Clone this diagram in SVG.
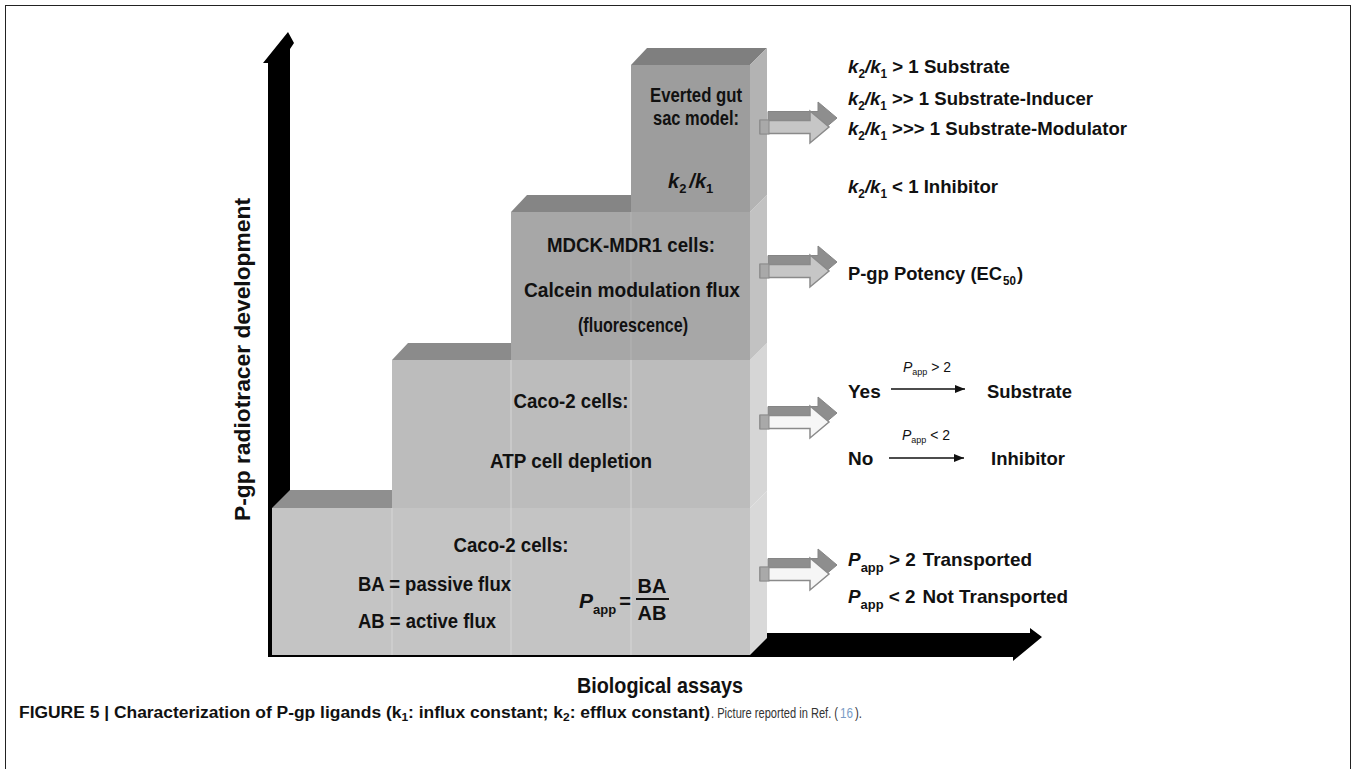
<svg xmlns="http://www.w3.org/2000/svg" width="1356" height="769" viewBox="0 0 1356 769">
<style>
text{font-family:"Liberation Sans",Arial,sans-serif;font-weight:bold;fill:#111}
.bx{font-size:20px}
.rt{font-size:19px}
.sm{font-size:14px;font-weight:normal}
.capn{font-size:14px;font-weight:normal;fill:#333}
.back{fill:#8e8e8e;stroke:#858585;stroke-width:1}
.frontA{fill:#c6c6c6;stroke:#8a8a8a;stroke-width:1.5}
.frontB{fill:#f6f6f6;stroke:#8a8a8a;stroke-width:1.5}
.cap2{fill:#a9a9a9;stroke:#8a8a8a;stroke-width:1}
.col{stroke:#d6d6d6;stroke-width:1}
</style>
<defs>
<marker id="ah" viewBox="0 0 10 8" refX="10" refY="4" markerWidth="10" markerHeight="8" markerUnits="userSpaceOnUse" orient="auto">
<path d="M0,0 L10,4 L0,8 z" fill="#111"/>
</marker>
<path id="arr" d="M0,-6.5 H50 V-16 L69,0 L50,16 V6.5 H0 Z"/>
</defs>
<rect x="5.5" y="5.5" width="1345" height="800" fill="#fff" stroke="#222" stroke-width="1"/>

<g id="axes">
<polygon points="268,657 268,63 263,63 288,32 294,43 290,49 290,657" fill="#000"/>
<polygon points="268,657 268,633 1030,633 1030,628 1042,637 1013,661 1013,657" fill="#000"/>
<text x="0" y="0" transform="translate(250,521) rotate(-90)" font-size="22.5" textLength="323" lengthAdjust="spacingAndGlyphs">P-gp radiotracer development</text>
<text x="660" y="693" font-size="22" text-anchor="middle" textLength="166" lengthAdjust="spacingAndGlyphs">Biological assays</text>
</g>

<g id="box1">
<polygon points="272,508 290,490 392,490 392,508" fill="#8f8f8f"/>
<polygon points="750,508 767,491 767,638 750,655" fill="#d9d9d9"/>
<rect x="272" y="508" width="478" height="147" fill="#c4c4c4"/>
<line class="col" x1="392" y1="508" x2="392" y2="655"/>
<line class="col" x1="511" y1="508" x2="511" y2="655"/>
<line class="col" x1="631" y1="508" x2="631" y2="655"/>
<text class="bx" x="511" y="552" text-anchor="middle" textLength="115" lengthAdjust="spacingAndGlyphs">Caco-2 cells:</text>
<text class="bx" x="358" y="591" textLength="153" lengthAdjust="spacingAndGlyphs">BA = passive flux</text>
<text class="bx" x="358" y="628" textLength="138" lengthAdjust="spacingAndGlyphs">AB = active flux</text>
<text class="bx" x="579" y="608"><tspan font-style="italic" font-size="21">P</tspan><tspan font-size="13" dy="6">app</tspan><tspan dy="-6" dx="3">=</tspan></text>
<text class="bx" x="652" y="593" text-anchor="middle">BA</text>
<line x1="636" y1="599" x2="669" y2="599" stroke="#111" stroke-width="2"/>
<text class="bx" x="652" y="620" text-anchor="middle">AB</text>
</g>

<g id="box2">
<polygon points="392,360 408,343 511,343 511,360" fill="#8b8b8b"/>
<polygon points="750,360 767,343 767,491 750,508" fill="#d6d6d6"/>
<rect x="392" y="360" width="358" height="148" fill="#bcbcbc"/>
<line class="col" x1="511" y1="360" x2="511" y2="508"/>
<line class="col" x1="631" y1="360" x2="631" y2="508"/>
<text class="bx" x="571" y="408" text-anchor="middle" textLength="115" lengthAdjust="spacingAndGlyphs">Caco-2 cells:</text>
<text class="bx" x="571" y="468" text-anchor="middle" textLength="162" lengthAdjust="spacingAndGlyphs">ATP cell depletion</text>
</g>

<g id="box3">
<polygon points="511,212 527,195 631,195 631,212" fill="#858585"/>
<polygon points="750,212 767,195 767,343 750,360" fill="#c2c2c2"/>
<rect x="511" y="212" width="239" height="148" fill="#a7a7a7"/>
<line x1="631" y1="212" x2="631" y2="360" stroke="#b4b4b4" stroke-width="1"/>
<text class="bx" x="631" y="252" text-anchor="middle" textLength="168" lengthAdjust="spacingAndGlyphs">MDCK-MDR1 cells:</text>
<text class="bx" x="632" y="297" text-anchor="middle" textLength="216" lengthAdjust="spacingAndGlyphs">Calcein modulation flux</text>
<text class="bx" x="633" y="332" text-anchor="middle" textLength="110" lengthAdjust="spacingAndGlyphs">(fluorescence)</text>
</g>

<g id="box4">
<polygon points="631,65 647,48 767,48 750,65" fill="#7f7f7f"/>
<polygon points="750,65 767,48 767,195 750,212" fill="#b3b3b3"/>
<rect x="631" y="65" width="119" height="147" fill="#9d9d9d"/>
<text class="bx" x="696" y="102" text-anchor="middle" textLength="92" lengthAdjust="spacingAndGlyphs">Everted gut</text>
<text class="bx" x="696" y="125" text-anchor="middle" textLength="86" lengthAdjust="spacingAndGlyphs">sac model:</text>
<text class="bx" x="668" y="188"><tspan font-style="italic">k</tspan><tspan font-size="13" dy="5">2</tspan><tspan dy="-5" dx="3" font-style="italic">/k</tspan><tspan font-size="13" dy="5">1</tspan></text>
</g>

<g id="connectors">
<g transform="translate(760,127)"><use href="#arr" class="back" x="8" y="-9"/><use href="#arr" class="frontA"/><rect class="cap2" x="0" y="-7" width="9" height="14"/></g>
<g transform="translate(760,271)"><use href="#arr" class="back" x="8" y="-9"/><use href="#arr" class="frontA"/><rect class="cap2" x="0" y="-7" width="9" height="14"/></g>
<g transform="translate(760,422)"><use href="#arr" class="back" x="8" y="-9"/><use href="#arr" class="frontB"/><rect class="cap2" x="0" y="-7" width="9" height="14"/></g>
<g transform="translate(760,574)"><use href="#arr" class="back" x="8" y="-9"/><use href="#arr" class="frontB"/><rect class="cap2" x="0" y="-7" width="9" height="14"/></g>
<line x1="891" y1="389" x2="965" y2="389" stroke="#111" stroke-width="1.5" marker-end="url(#ah)"/>
<line x1="889" y1="458" x2="964" y2="458" stroke="#111" stroke-width="1.5" marker-end="url(#ah)"/>
</g>

<g id="out4">
<text class="rt" x="848" y="73" textLength="162" lengthAdjust="spacingAndGlyphs"><tspan font-style="italic">k</tspan><tspan font-size="12" dy="5">2</tspan><tspan dy="-5" font-style="italic">/k</tspan><tspan font-size="12" dy="5">1</tspan><tspan dy="-5"> &gt; 1 Substrate</tspan></text>
<text class="rt" x="848" y="105" textLength="245" lengthAdjust="spacingAndGlyphs"><tspan font-style="italic">k</tspan><tspan font-size="12" dy="5">2</tspan><tspan dy="-5" font-style="italic">/k</tspan><tspan font-size="12" dy="5">1</tspan><tspan dy="-5"> &gt;&gt; 1 Substrate-Inducer</tspan></text>
<text class="rt" x="848" y="135" textLength="279" lengthAdjust="spacingAndGlyphs"><tspan font-style="italic">k</tspan><tspan font-size="12" dy="5">2</tspan><tspan dy="-5" font-style="italic">/k</tspan><tspan font-size="12" dy="5">1</tspan><tspan dy="-5"> &gt;&gt;&gt; 1 Substrate-Modulator</tspan></text>
<text class="rt" x="848" y="193" textLength="150" lengthAdjust="spacingAndGlyphs"><tspan font-style="italic">k</tspan><tspan font-size="12" dy="5">2</tspan><tspan dy="-5" font-style="italic">/k</tspan><tspan font-size="12" dy="5">1</tspan><tspan dy="-5"> &lt; 1 Inhibitor</tspan></text>
</g>

<g id="out3">
<text class="rt" x="848" y="280" textLength="175" lengthAdjust="spacingAndGlyphs">P-gp Potency (EC<tspan font-size="12" dy="5" dx="1">50</tspan><tspan dy="-5" dx="1">)</tspan></text>
</g>

<g id="out2">
<text class="rt" x="848" y="398">Yes</text>
<text class="rt" x="848" y="465">No</text>
<text class="rt" x="987" y="398" textLength="85" lengthAdjust="spacingAndGlyphs">Substrate</text>
<text class="rt" x="991" y="465" textLength="74" lengthAdjust="spacingAndGlyphs">Inhibitor</text>
<text class="sm" x="903" y="372"><tspan font-style="italic">P</tspan><tspan font-size="9" dy="3">app</tspan><tspan dy="-3"> &gt; 2</tspan></text>
<text class="sm" x="902" y="440"><tspan font-style="italic">P</tspan><tspan font-size="9" dy="3">app</tspan><tspan dy="-3"> &lt; 2</tspan></text>
</g>

<g id="out1">
<text class="rt" x="848" y="566" font-size="20" textLength="184" lengthAdjust="spacingAndGlyphs"><tspan font-style="italic">P</tspan><tspan font-size="13" dy="6">app</tspan><tspan dy="-6"> &gt; 2</tspan><tspan dx="7">Transported</tspan></text>
<text class="rt" x="848" y="603" font-size="20" textLength="220" lengthAdjust="spacingAndGlyphs"><tspan font-style="italic">P</tspan><tspan font-size="13" dy="6">app</tspan><tspan dy="-6"> &lt; 2</tspan><tspan dx="7">Not Transported</tspan></text>
</g>

<g id="caption">
<text x="19" y="718" font-size="16" textLength="691" lengthAdjust="spacingAndGlyphs">FIGURE 5 | Characterization of P-gp ligands (k<tspan font-size="11" dy="3">1</tspan><tspan dy="-3">: influx constant; k</tspan><tspan font-size="11" dy="3">2</tspan><tspan dy="-3">: efflux constant)</tspan></text>
<text class="capn" x="711" y="718" textLength="127" lengthAdjust="spacingAndGlyphs">. Picture reported in Ref. (</text>
<text class="capn" x="840" y="718" style="fill:#7a9cc6" textLength="13" lengthAdjust="spacingAndGlyphs">16</text>
<text class="capn" x="855" y="718" textLength="7" lengthAdjust="spacingAndGlyphs">).</text>
</g>
</svg>
